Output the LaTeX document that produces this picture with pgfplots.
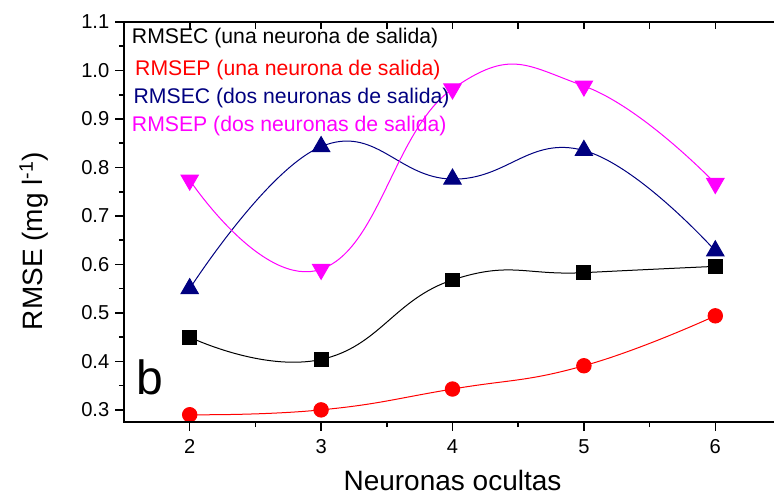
\documentclass[border=0pt]{standalone}
\usepackage{fontspec}
\setmainfont{Liberation Sans}
\usepackage{pgfplots}
\pgfplotsset{compat=1.18}

\definecolor{navyblue}{RGB}{0,0,128}
\definecolor{pinkish}{RGB}{255,0,255}
\definecolor{redish}{RGB}{255,0,0}

\newcommand{\legfont}{\fontsize{15.9}{18}\selectfont}

\begin{document}
\begin{tikzpicture}
\useasboundingbox (-93pt,-56.25pt) rectangle (487.5pt,316.5pt);

% main axis: ticks outside on bottom/left
\begin{axis}[
    at={(0,0)}, anchor=south west,
    scale only axis, width=492.75pt, height=300pt,
    xmin=1.5, xmax=6.5, ymin=0.275, ymax=1.1,
    xtick={2,3,4,5,6}, minor xtick={2.5,3.5,4.5,5.5},
    ytick={0.3,0.4,0.5,0.6,0.7,0.8,0.9,1.0,1.1},
    minor ytick={0.35,0.45,0.55,0.65,0.75,0.85,0.95,1.05},
    xtick pos=bottom, ytick pos=left, tick align=outside,
    major tick length=6.5pt, minor tick length=3.8pt,
    axis line style={line width=1.4pt},
    every tick/.style={line width=1.2pt, black},
    /pgf/number format/assume math mode=true,
    ticklabel style={font=\fontsize{15.1}{17}\selectfont},
    xticklabel style={yshift=-3pt},
    yticklabel style={xshift=-1pt, /pgf/number format/.cd, fixed, fixed zerofill, precision=1},
    xlabel={Neuronas ocultas},
    ylabel={RMSE (mg l\textsuperscript{-1})},
    xlabel style={font=\fontsize{21}{24}\selectfont, inner sep=0pt, at={(axis description cs:0.5,-0.17)}, anchor=base},
    ylabel style={font=\fontsize{21}{24}\selectfont, at={(axis description cs:-0.1233,0.4525)}, anchor=base},
    clip=false,
  ]

  % RMSEC (una neurona de salida)
  \addplot[black, line width=0.75pt, smooth, tension=0.8, mark=square*, mark size=5.2pt, mark options={solid}]
    coordinates {(2,0.450) (3,0.404) (4,0.568) (5,0.583) (6,0.596)};

  % RMSEP (una neurona de salida)
  \addplot[redish, line width=0.75pt, smooth, tension=0.8, mark=*, mark size=5.4pt, mark options={solid}]
    coordinates {(2,0.290) (3,0.300) (4,0.343) (5,0.391) (6,0.494)};

  % RMSEC (dos neuronas de salida)
  \addplot[navyblue, line width=0.75pt, smooth, tension=0.75, mark=triangle*, mark size=7.5pt, mark options={solid}]
    coordinates {(2,0.550) (3,0.843) (4,0.776) (5,0.835) (6,0.628)};

  % RMSEP (dos neuronas de salida)
  \addplot[pinkish, line width=0.75pt, smooth, tension=0.8, mark=triangle*, mark size=7.5pt, mark options={solid, rotate=180}]
    coordinates {(2,0.774) (3,0.590) (4,0.962) (5,0.968) (6,0.767)};

  \node[anchor=base west, inner sep=0pt, text=black, font=\legfont] at (rel axis cs:0.0117,0.947) {RMSEC (una neurona de salida)};
  \node[anchor=base west, inner sep=0pt, text=redish, font=\legfont] at (rel axis cs:0.0167,0.8675) {RMSEP (una neurona de salida)};
  \node[anchor=base west, inner sep=0pt, text=navyblue, font=\legfont] at (rel axis cs:0.0143,0.797) {RMSEC (dos neuronas de salida)};
  \node[anchor=base west, inner sep=0pt, text=pinkish, font=\legfont] at (rel axis cs:0.0117,0.726) {RMSEP (dos neuronas de salida)};

  \node[anchor=base west, inner sep=0pt, font=\fontsize{36}{40}\selectfont] at (rel axis cs:0.018,0.07) {b};
\end{axis}

% overlay axis: ticks inside on top/right
\begin{axis}[
    at={(0,0)}, anchor=south west,
    scale only axis, width=492.75pt, height=300pt,
    xmin=1.5, xmax=6.5, ymin=0.275, ymax=1.1,
    xtick={2,3,4,5,6}, minor xtick={2.5,3.5,4.5,5.5},
    ytick={0.3,0.4,0.5,0.6,0.7,0.8,0.9,1.0,1.1},
    xtick pos=top, ytick pos=right, tick align=inside,
    major tick length=5pt, minor tick length=5pt,
    axis line style={line width=1.4pt},
    every tick/.style={line width=1.2pt, black},
    xticklabels={}, yticklabels={},
  ]
  \addplot[draw=none] coordinates {(2,0.5)};
\end{axis}
\end{tikzpicture}
\end{document}
